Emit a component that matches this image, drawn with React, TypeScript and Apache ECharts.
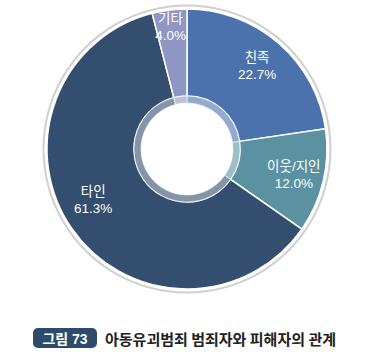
import React, { useEffect, useRef } from "react";
import * as echarts from "echarts";

const categories = ["친족", "이웃/지인", "타인", "기타"];
const values = [22.7, 12.0, 61.3, 4.0];
const captionTag = "그림 73";
const captionTitle = "아동유괴범죄 범죄자와 피해자의 관계";

const sliceColors = ["#4b72ad", "#5a92a2", "#344e6f", "#9096c4"];
const labelShift: [number, number][] = [
  [5, -8],
  [10, 3],
  [-12, -6],
  [-4, -23],
];

const FONT = "'Liberation Sans', 'Noto Sans CJK KR', sans-serif";

export default function App() {
  const ref = useRef<HTMLDivElement>(null);
  useEffect(() => {
    if (!ref.current) return;
    const chart = echarts.init(ref.current, null, { renderer: "svg" });
    const data = categories.map((name, i) => ({
      name,
      value: values[i],
      itemStyle: { color: sliceColors[i] },
    }));
    const center = [187, 149];
    chart.setOption({
      animation: false,
      backgroundColor: "#ffffff",
      series: [
        {
          type: "pie",
          silent: true,
          center,
          radius: [142.5, 144.5],
          startAngle: 90,
          label: { show: false },
          labelLine: { show: false },
          itemStyle: { color: "#cfcfcf" },
          data: [{ name: "ring", value: 1 }],
        },
        {
          type: "pie",
          center,
          radius: [53, 140],
          startAngle: 90,
          clockwise: true,
          itemStyle: { borderColor: "#ffffff", borderWidth: 1.5 },
          label: {
            show: true,
            position: "inside",
            color: "#ffffff",
            fontSize: 13.5,
            lineHeight: 17,
            fontFamily: FONT,
            formatter: (p: any) => `${p.name}\n${Number(p.value).toFixed(1)}%`,
          },
          labelLayout: (params: any) => {
            const s = labelShift[params.dataIndex] || [0, 0];
            return { dx: s[0], dy: s[1] };
          },
          labelLine: { show: false },
          data,
        },
        {
          type: "pie",
          silent: true,
          center,
          radius: [46, 53],
          startAngle: 90,
          clockwise: true,
          label: { show: false },
          labelLine: { show: false },
          itemStyle: { opacity: 0.6, borderColor: "#ffffff", borderWidth: 1 },
          data,
        },
      ],
      graphic: [
        {
          type: "rect",
          shape: { x: 33, y: 328, width: 64, height: 20, r: 5 },
          style: { fill: "#2f4b6c" },
        },
        {
          type: "text",
          x: 65,
          y: 338.5,
          style: {
            text: captionTag,
            fill: "#ffffff",
            font: `bold 14px ${FONT}`,
            align: "center",
            verticalAlign: "middle",
          },
        },
        {
          type: "text",
          x: 105,
          y: 338.5,
          style: {
            text: captionTitle,
            fill: "#222222",
            font: `bold 15px 'Noto Sans CJK KR', sans-serif`,
            align: "left",
            verticalAlign: "middle",
          },
        },
      ],
    });
    return () => chart.dispose();
  }, []);
  return (
    <div
      ref={ref}
      style={{ position: "absolute", left: 0, top: 0, width: 370, height: 358 }}
    />
  );
}
